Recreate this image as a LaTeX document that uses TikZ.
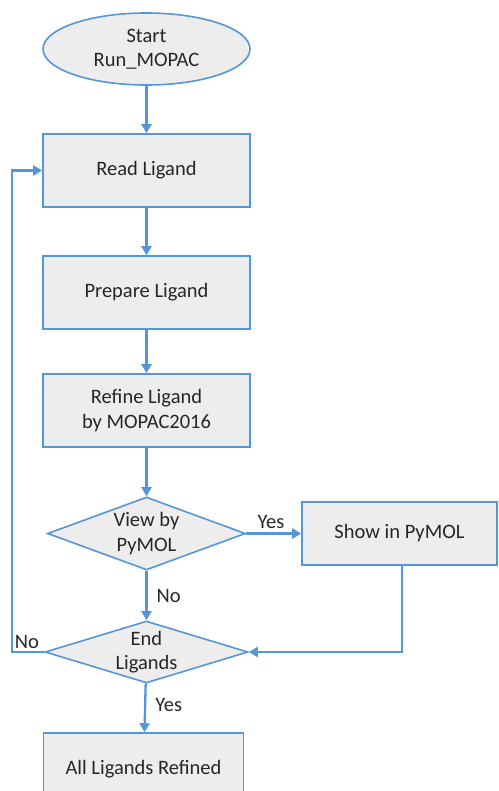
\documentclass[tikz,border=0pt]{standalone}
\usepackage{fontspec}
\setmainfont{Carlito}
\usetikzlibrary{shapes.geometric,arrows.meta}
\definecolor{edgeblue}{RGB}{84,150,215}
\definecolor{boxfill}{RGB}{237,237,237}
\definecolor{txt}{RGB}{38,38,38}
\tikzset{
  every node/.style={text=txt, font=\fontsize{20.5pt}{24.5pt}\selectfont},
  stepbox/.style={draw=edgeblue, fill=boxfill, line width=1.6pt, rectangle, align=center, inner sep=0pt},
  startshape/.style={draw=edgeblue, fill=boxfill, line width=1.6pt, ellipse, align=center, inner sep=0pt},
  decide/.style={draw=edgeblue, fill=boxfill, line width=1.6pt, diamond, align=center, inner sep=0pt},
  link/.style={draw=edgeblue, line width=2.3pt, -{Triangle[width=10pt,length=9pt]}},
  lbl/.style={inner sep=0pt}
}
\begin{document}
\begin{tikzpicture}[x=1pt,y=-1pt]
\useasboundingbox (0,0) rectangle (498,791);
\clip (0,0) rectangle (498,791);
\node[startshape, minimum width=207pt, minimum height=72pt] (start) at (146.5,49) {Start\\Run\_MOPAC};
\node[stepbox, minimum width=207pt, minimum height=73pt] (read) at (146.5,170.5) {Read Ligand};
\node[stepbox, minimum width=207pt, minimum height=73pt] (prep) at (146.5,292.5) {Prepare Ligand};
\node[stepbox, minimum width=207pt, minimum height=73pt] (refine) at (146.5,410.5) {Refine Ligand\\by MOPAC2016};
\node[decide, aspect=2.7, minimum width=198pt, minimum height=73pt] (view) at (146.5,533.5) {View by\\PyMOL};
\node[stepbox, minimum width=195pt, minimum height=63pt] (show) at (399.5,533.5) {Show in PyMOL};
\node[decide, aspect=3.27, minimum width=203pt, minimum height=62pt] (endl) at (146.5,652) {End\\Ligands};
\node[stepbox, minimum width=200pt, minimum height=72pt] (all) at (143.5,769) {All Ligands Refined};
\coordinate (loopA) at (12,652);
\coordinate (loopB) at (12,170.5);
\coordinate (showdown) at (402,652);

\draw[link] (start) -- (read);
\draw[link] (read) -- (prep);
\draw[link] (prep) -- (refine);
\draw[link] (refine) -- (view);
\draw[link] (view) -- node[lbl, above=4pt, pos=0.45] (yes1) {Yes} (show);
\draw[link] (view) -- node[lbl, right=9pt, pos=0.5] (no1) {No} (endl);
\draw[link] (show.south -| showdown) -- (showdown) -- (endl.east);
\draw[link] (endl.west) -- (loopA) -- (loopB) -- (read.west);
\draw[link] (endl) -- node[lbl, right=9pt, pos=0.45] (yes2) {Yes} (all);
\node[lbl] (no2) at (27,642) {No};
\end{tikzpicture}
\end{document}
